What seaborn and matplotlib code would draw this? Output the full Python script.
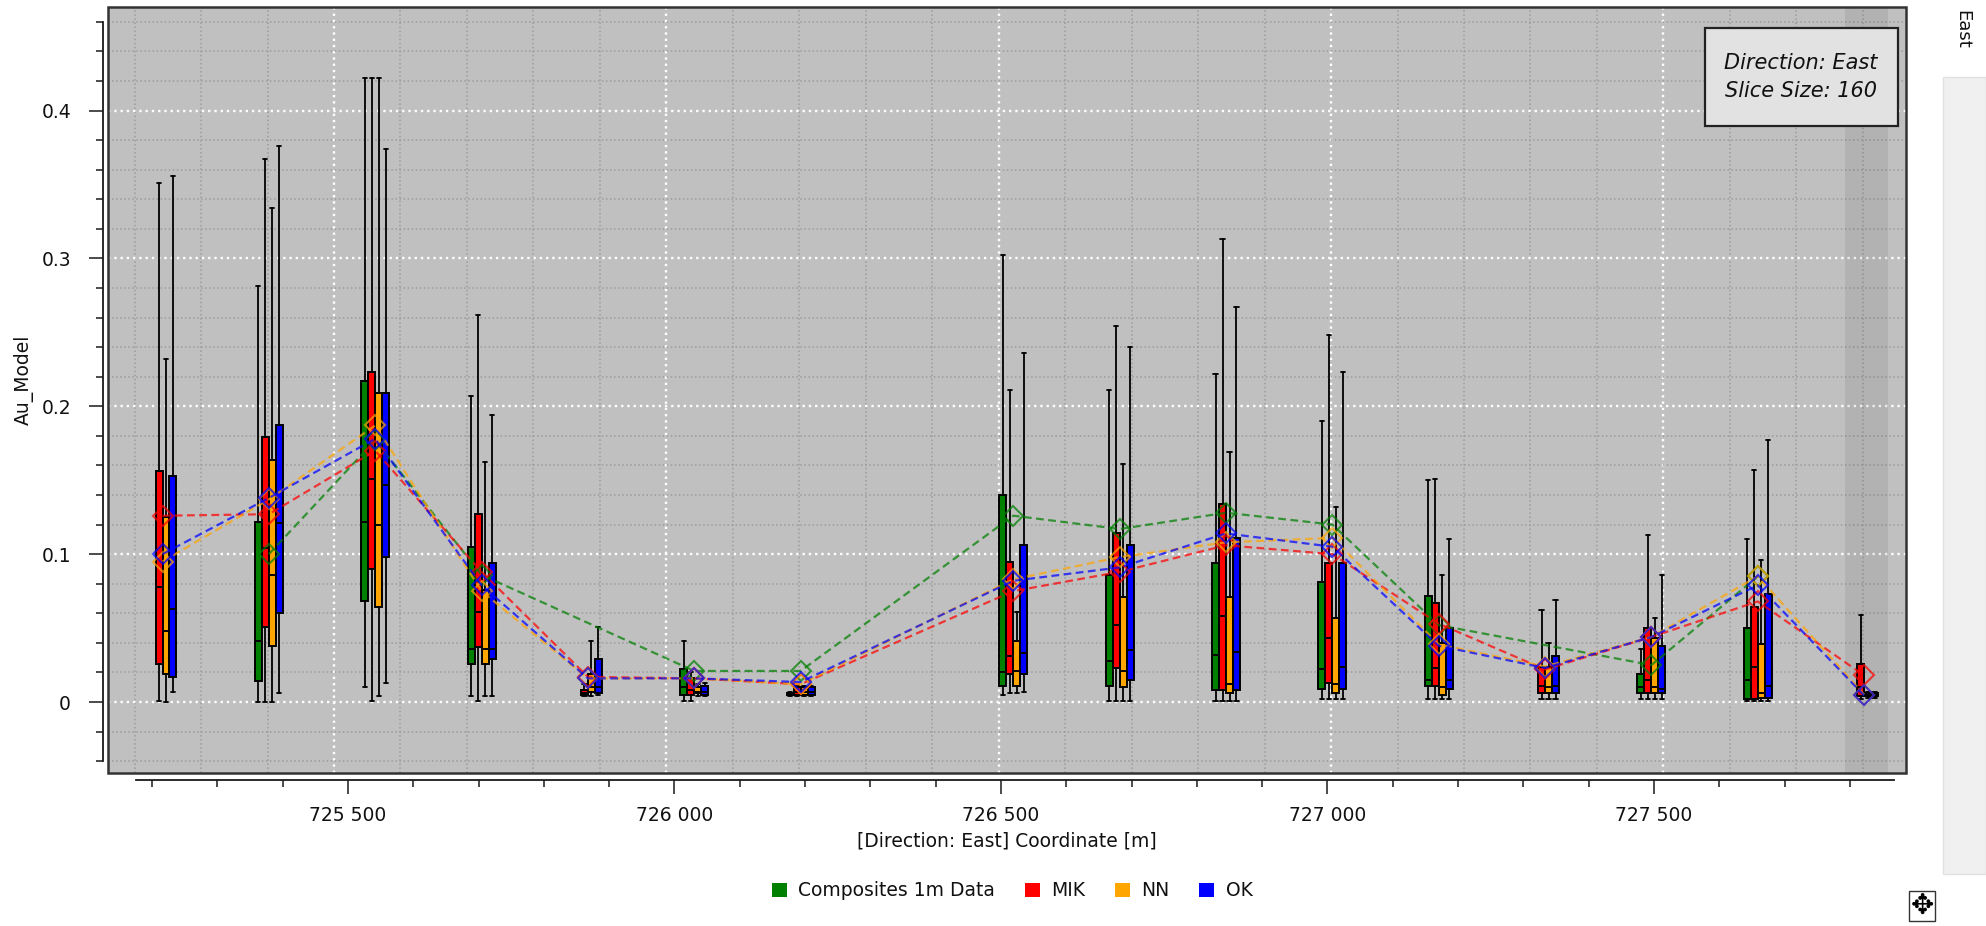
import pandas as pd
import matplotlib
matplotlib.use("Agg")
import matplotlib.pyplot as plt
import matplotlib.patches as mpatches
from matplotlib.ticker import MultipleLocator, FuncFormatter
import seaborn as sns

# slice centres along East [m]
slice_x = [725242, 725402, 725562, 725722, 725882, 726042, 726202, 726522,
           726682, 726842, 727002, 727162, 727322, 727482, 727642, 727802]

# box stats per slice: (whisker low, q1, median, q3, whisker high); None = no samples
comp_box = [None,
            (0.000, 0.014, 0.041, 0.122, 0.281),
            (0.010, 0.068, 0.122, 0.217, 0.422),
            (0.004, 0.026, 0.036, 0.105, 0.207),
            None,
            (0.001, 0.005, 0.010, 0.022, 0.041),
            (0.004, 0.005, 0.005, 0.006, 0.007),
            (0.005, 0.011, 0.020, 0.140, 0.302),
            (0.001, 0.011, 0.028, 0.086, 0.211),
            (0.001, 0.008, 0.032, 0.094, 0.222),
            (0.002, 0.009, 0.022, 0.081, 0.190),
            (0.002, 0.011, 0.015, 0.072, 0.150),
            None,
            (0.002, 0.006, 0.010, 0.019, 0.036),
            (0.001, 0.002, 0.015, 0.050, 0.110),
            None]
comp_mean = [None, 0.100, 0.177, 0.086, None, 0.021, 0.021, 0.126,
             0.117, 0.128, 0.120, 0.052, None, 0.025, 0.085, None]

mik_box = [(0.001, 0.026, 0.078, 0.156, 0.351),
           (0.000, 0.051, 0.104, 0.179, 0.367),
           (0.001, 0.090, 0.151, 0.223, 0.422),
           (0.001, 0.037, 0.061, 0.127, 0.262),
           (0.004, 0.005, 0.006, 0.008, 0.012),
           (0.001, 0.005, 0.008, 0.016, 0.020),
           (0.004, 0.005, 0.007, 0.010, 0.011),
           (0.006, 0.019, 0.031, 0.095, 0.211),
           (0.001, 0.023, 0.052, 0.114, 0.254),
           (0.001, 0.008, 0.058, 0.134, 0.313),
           (0.002, 0.013, 0.043, 0.094, 0.248),
           (0.002, 0.011, 0.023, 0.067, 0.151),
           (0.002, 0.006, 0.011, 0.024, 0.062),
           (0.002, 0.006, 0.015, 0.050, 0.113),
           (0.001, 0.002, 0.024, 0.064, 0.157),
           (0.002, 0.004, 0.010, 0.026, 0.059)]
mik_mean = [0.126, 0.127, 0.170, 0.088, 0.017, 0.016, 0.012, 0.075,
            0.088, 0.106, 0.100, 0.053, 0.022, 0.044, 0.068, 0.018]

nn_box = [(0.000, 0.019, 0.048, 0.125, 0.232),
          (0.000, 0.038, 0.086, 0.164, 0.334),
          (0.004, 0.064, 0.120, 0.209, 0.422),
          (0.004, 0.026, 0.036, 0.076, 0.162),
          (0.004, 0.007, 0.010, 0.019, 0.041),
          (0.004, 0.006, 0.007, 0.010, 0.012),
          (0.004, 0.005, 0.007, 0.010, 0.011),
          (0.006, 0.011, 0.021, 0.041, 0.061),
          (0.001, 0.010, 0.021, 0.071, 0.161),
          (0.001, 0.006, 0.012, 0.071, 0.169),
          (0.002, 0.006, 0.012, 0.057, 0.132),
          (0.002, 0.005, 0.010, 0.040, 0.086),
          (0.002, 0.006, 0.010, 0.024, 0.040),
          (0.002, 0.006, 0.010, 0.043, 0.057),
          (0.001, 0.003, 0.006, 0.039, 0.096),
          (0.003, 0.004, 0.005, 0.006, 0.007)]
nn_mean = [0.095, 0.137, 0.187, 0.075, 0.016, 0.016, 0.012, 0.083,
           0.098, 0.108, 0.111, 0.039, 0.024, 0.044, 0.085, 0.005]

ok_box = [(0.007, 0.017, 0.063, 0.153, 0.356),
          (0.006, 0.060, 0.121, 0.187, 0.376),
          (0.013, 0.098, 0.147, 0.209, 0.374),
          (0.004, 0.029, 0.036, 0.094, 0.194),
          (0.005, 0.006, 0.010, 0.029, 0.051),
          (0.004, 0.005, 0.007, 0.011, 0.013),
          (0.004, 0.005, 0.007, 0.010, 0.011),
          (0.007, 0.019, 0.033, 0.106, 0.236),
          (0.001, 0.015, 0.035, 0.106, 0.240),
          (0.001, 0.008, 0.034, 0.111, 0.267),
          (0.002, 0.009, 0.024, 0.094, 0.223),
          (0.002, 0.009, 0.015, 0.050, 0.110),
          (0.002, 0.006, 0.011, 0.031, 0.069),
          (0.002, 0.006, 0.009, 0.038, 0.086),
          (0.001, 0.003, 0.011, 0.073, 0.177),
          (0.003, 0.004, 0.005, 0.006, 0.007)]
ok_mean = [0.100, 0.138, 0.178, 0.079, 0.016, 0.016, 0.0135, 0.082,
           0.091, 0.114, 0.105, 0.038, 0.023, 0.044, 0.079, 0.0045]

series = [("Composites 1m Data", "#008000", comp_box, comp_mean),
          ("MIK", "#ff0000", mik_box, mik_mean),
          ("NN", "#ffa500", nn_box, nn_mean),
          ("OK", "#0000ff", ok_box, ok_mean)]
box_offset = [-15.75, -5.25, 5.25, 15.75]
box_w = 10.5

sns.set_style("ticks")
plt.rcParams['font.family'] = ['DejaVu Sans']
txt_col = '#111111'
fs = 13.5

W, H = 1986, 926
fig = plt.figure(figsize=(W / 100, H / 100), dpi=100, facecolor='white')
rect = [108 / W, 1 - 773 / H, (1906 - 108) / W, (773 - 7) / H]
ax = fig.add_axes(rect)
ax.set_facecolor('#c0c0c0')
ax.set_xlim(725160, 727865)
ax.set_ylim(-0.048, 0.470)

# grid
ax.xaxis.set_major_locator(MultipleLocator(500))
ax.xaxis.set_minor_locator(MultipleLocator(100))
ax.yaxis.set_major_locator(MultipleLocator(0.1))
ax.yaxis.set_minor_locator(MultipleLocator(0.02))
ax.grid(which='major', color='white', ls=':', lw=1.7)
ax.grid(which='minor', color='#9c9c9c', ls=':', lw=1.1)
ax.set_axisbelow(True)

# boxes
for (name, c, boxes, means), off in zip(series, box_offset):
    stats, pos = [], []
    for x, b in zip(slice_x, boxes):
        if b is None:
            continue
        lo, q1, med, q3, hi = b
        stats.append(dict(whislo=lo, q1=q1, med=med, q3=q3, whishi=hi, fliers=[]))
        pos.append(x + off)
    ax.bxp(stats, positions=pos, widths=box_w, patch_artist=True,
           showfliers=False, manage_ticks=False, capwidths=box_w * 0.6,
           boxprops=dict(facecolor=c, edgecolor='black', linewidth=1.4),
           medianprops=dict(color='black', linewidth=1.4),
           whiskerprops=dict(color='black', linewidth=1.3),
           capprops=dict(color='black', linewidth=1.3), zorder=2)

# selected slice band
ax.axvspan(727773, 727838, color='black', alpha=0.07, lw=0, zorder=2.5)

# mean lines
for name, c, boxes, means in series:
    d = pd.DataFrame({'x': slice_x, 'mean': means}).dropna()
    sns.lineplot(data=d, x='x', y='mean', ax=ax, color=c, lw=1.6,
                 linestyle=(0, (3.5, 2)), marker='D', markersize=10,
                 markerfacecolor='none', markeredgecolor=c, markeredgewidth=1.5,
                 alpha=0.72, errorbar=None, legend=False, zorder=4)
ax.set_xlabel('')

# axes frame, offset y axis
for s in ['top', 'right', 'bottom']:
    ax.spines[s].set_visible(False)
ax.spines['left'].set_position(('outward', 3.6))
ax.spines['left'].set_bounds(-0.04, 0.46)
ax.spines['left'].set_color('#1a1a1a')
ax.spines['left'].set_linewidth(1.3)
ax.add_patch(mpatches.Rectangle((0, 0), 1, 1, transform=ax.transAxes, fill=False,
                                ec='#333333', lw=1.8, zorder=10, clip_on=False))

ax.tick_params(axis='y', which='major', direction='out', length=10, width=1.1,
               color='#1a1a1a', labelsize=fs, labelcolor=txt_col, pad=13)
ax.tick_params(axis='y', which='minor', direction='out', length=5, width=1.1,
               color='#1a1a1a')
ax.tick_params(axis='x', which='both', length=0, labelbottom=False)
ax.yaxis.set_major_formatter(FuncFormatter(lambda v, p: '0' if abs(v) < 1e-9 else f"{v:.1f}"))
ax.set_ylabel('Au_Model', fontsize=fs, color=txt_col)
ax.yaxis.set_label_coords(-0.041, 0.513)

# separate coordinate axis strip below the plot
axx = fig.add_axes(rect)
axx.patch.set_visible(False)
axx.set_xlim(725132.5, 727886)
axx.set_yticks([])
for s in ['top', 'right', 'left']:
    axx.spines[s].set_visible(False)
axx.spines['bottom'].set_position(('outward', 5))
axx.spines['bottom'].set_bounds(725176, 727868)
axx.spines['bottom'].set_color('#1a1a1a')
axx.spines['bottom'].set_linewidth(1.3)
axx.xaxis.set_major_locator(MultipleLocator(500))
axx.xaxis.set_minor_locator(MultipleLocator(100))
axx.tick_params(axis='x', which='major', direction='out', length=10, width=1.1,
                color='#1a1a1a', labelsize=fs, labelcolor=txt_col, pad=9)
axx.tick_params(axis='x', which='minor', direction='out', length=5, width=1.1,
                color='#1a1a1a')
axx.xaxis.set_major_formatter(FuncFormatter(lambda v, p: f"{int(round(v)):,}".replace(',', ' ')))
axx.set_xlabel('[Direction: East] Coordinate [m]', fontsize=fs, color=txt_col)
axx.xaxis.set_label_coords(0.5, -0.077)

# info box
fig.patches.append(mpatches.Rectangle((1705 / W, 1 - 126 / H), (1898 - 1705) / W, (126 - 28) / H,
                                      transform=fig.transFigure, facecolor='#e2e2e2',
                                      edgecolor='#222222', lw=1.6, zorder=5))
fig.text(1801 / W, 1 - 77 / H, "Direction: East\nSlice Size: 160", ha='center', va='center',
         style='italic', fontsize=15, linespacing=1.45, color=txt_col, zorder=6)

# legend
handles = [mpatches.Patch(facecolor=c, edgecolor='none', label=n) for n, c, _, _ in series]
fig.legend(handles=handles, loc='center', bbox_to_anchor=(1012 / W, 1 - 891 / H), ncol=4,
           frameon=False, fontsize=fs, handlelength=0.8, handleheight=0.8,
           handletextpad=0.6, columnspacing=1.6, labelcolor=txt_col)

# side panel
fig.patches.append(mpatches.Rectangle((1943 / W, 1 - 874 / H), (W - 1943) / W, (874 - 77) / H,
                                      transform=fig.transFigure, facecolor='#f0f0f0',
                                      edgecolor='#e0e0e0', lw=1))
fig.text(1962 / W, 1 - 29 / H, 'East', rotation=-90, ha='center', va='center',
         fontsize=13, color=txt_col)
fig.text(1922 / W, 1 - 906 / H, '\u2725', ha='center', va='center', fontsize=20,
         color='black', bbox=dict(boxstyle='square,pad=0.05', fc='white', ec='#333333', lw=1))

fig.savefig('out.png', dpi=100, facecolor='white')
